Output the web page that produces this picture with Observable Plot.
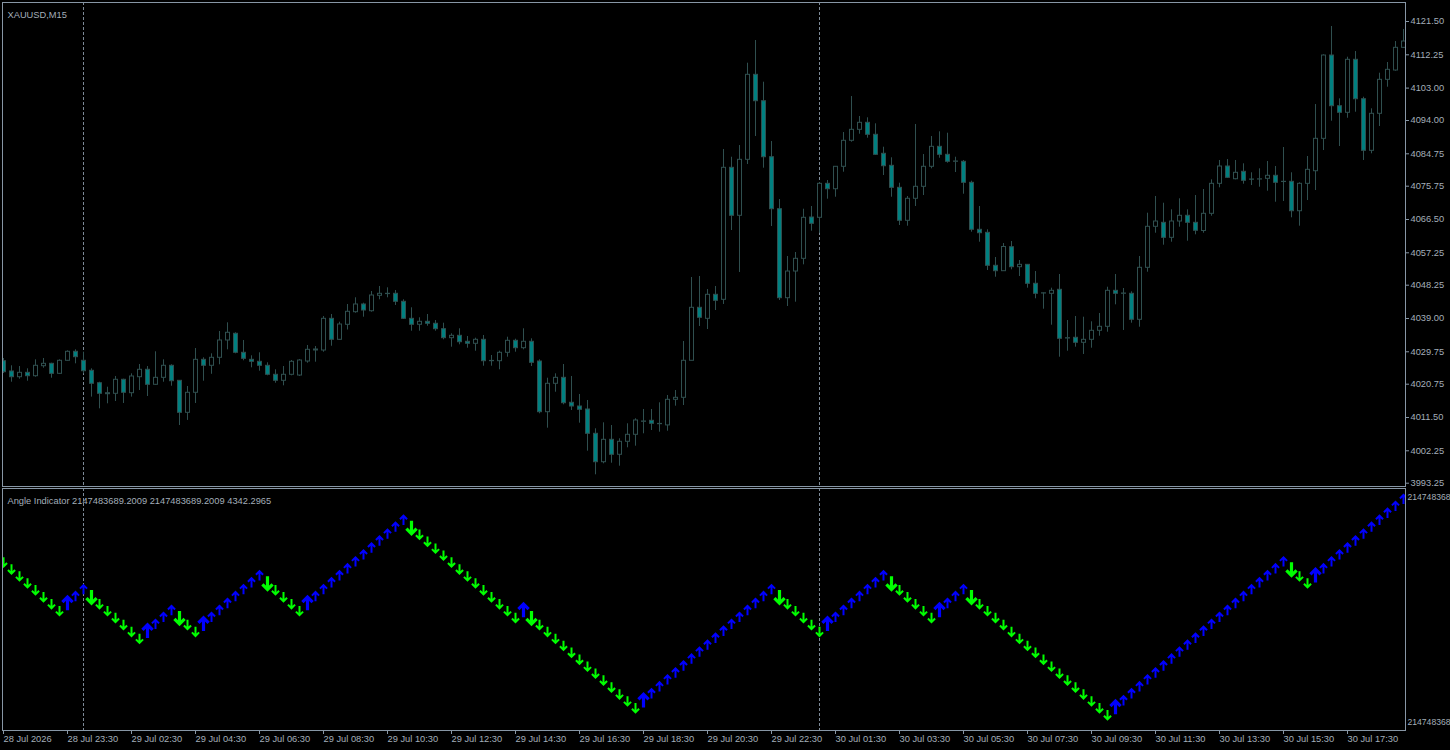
<!DOCTYPE html>
<html><head><meta charset="utf-8">
<script src="https://cdn.jsdelivr.net/npm/d3@7"></script>
<script src="https://cdn.jsdelivr.net/npm/@observablehq/plot@0.6"></script>
<style>
html,body{margin:0;padding:0;background:#000;width:1450px;height:750px;overflow:hidden;}
#wrap{position:relative;width:1450px;height:750px;background:#000;}
#main,#ind{position:absolute;left:0;}
#main{top:0;} #ind{top:487px;}
svg{display:block;}
</style></head><body><div id="wrap"><div id="main"></div><div id="ind"></div></div>
<script>
// ---- data (XAUUSD M15, bar index 0..175) ----
const open = [
4027.14,4024.28,4022.69,4023.91,4022.97,4025.75,4026.41,4023.63,4027.25,4029.75,
4027.25,4024.47,4021.02,4017.97,4018.08,4021.97,4018.25,4022.69,4024.75,4020.58,
4022.52,4025.86,4021.69,4012.80,4018.36,4027.52,4025.86,4028.08,4032.89,4034.75,
4029.47,4027.52,4026.97,4025.86,4023.36,4021.69,4023.36,4023.16,4027.05,4030.11,
4030.11,4038.91,4033.08,4037.25,4040.75,4042.89,4041.02,4045.30,4045.86,4045.86,
4043.64,4038.91,4037.25,4038.08,4037.53,4036.03,4033.53,4034.19,4032.53,4031.97,
4033.08,4027.14,4027.14,4029.47,4032.80,4030.75,4032.53,4027.05,4012.97,4020.86,
4022.52,4015.58,4014.55,4013.72,4006.97,3999.08,4005.30,4001.14,4004.75,4006.69,
4010.30,4010.58,4009.64,4009.30,4016.41,4016.97,4027.25,4041.97,4038.91,4045.58,
4044.19,4080.86,4067.53,4083.08,4106.69,4099.36,4083.80,4069.36,4044.64,4052.05,
4055.58,4067.05,4066.97,4076.41,4074.91,4081.14,4088.36,4091.41,4093.36,4090.03,
4084.75,4081.41,4075.30,4066.14,4072.25,4075.58,4081.14,4086.69,4084.47,4082.53,
4082.53,4076.69,4063.64,4062.80,4053.64,4052.14,4058.80,4053.25,4053.91,4048.64,
4045.94,4045.86,4046.97,4033.44,4033.64,4032.25,4033.08,4035.58,4036.69,4046.69,
4045.86,4045.86,4038.64,4053.08,4064.47,4065.58,4061.41,4065.94,4067.53,4065.58,
4063.30,4068.08,4076.41,4081.22,4077.69,4079.75,4077.61,4077.61,4077.80,4078.64,
4076.97,4076.97,4068.80,4076.41,4079.91,4088.91,4112.05,4097.97,4096.14,4110.86,
4099.91,4085.58,4095.86,4105.30,4107.89,4114.19];
const high = [
4027.89,4025.86,4025.66,4025.02,4027.52,4027.89,4026.58,4027.52,4030.03,4030.30,
4029.64,4025.02,4021.30,4019.91,4022.89,4022.14,4023.63,4026.22,4025.66,4029.75,
4027.52,4026.14,4021.78,4020.11,4030.66,4028.08,4029.19,4035.39,4037.80,4035.03,
4032.89,4028.63,4029.47,4026.69,4024.75,4025.66,4027.33,4027.60,4031.50,4031.22,
4039.55,4040.11,4037.97,4042.89,4044.75,4043.25,4046.50,4047.89,4047.52,4046.78,
4044.19,4041.97,4039.19,4040.11,4038.44,4037.69,4034.75,4036.14,4034.00,4033.53,
4034.28,4028.72,4029.91,4033.80,4033.25,4036.14,4033.36,4027.52,4022.41,4023.63,
4026.22,4022.89,4017.89,4016.22,4008.36,4010.02,4009.27,4005.58,4009.75,4011.14,
4013.72,4013.72,4015.58,4017.61,4019.00,4032.61,4050.39,4050.67,4047.05,4047.89,
4085.94,4083.80,4087.05,4109.92,4116.22,4104.64,4088.16,4072.05,4056.22,4057.33,
4069.36,4070.11,4076.77,4077.33,4081.22,4090.66,4100.66,4095.11,4094.75,4093.08,
4086.58,4083.64,4076.58,4072.89,4092.89,4084.55,4089.55,4090.86,4090.47,4083.80,
4082.89,4077.14,4070.11,4063.64,4055.94,4059.83,4060.39,4055.11,4054.00,4052.05,
4046.08,4047.42,4051.22,4038.44,4039.55,4039.36,4038.08,4040.39,4047.69,4051.22,
4047.33,4046.41,4056.22,4068.25,4072.89,4071.02,4069.19,4072.25,4069.19,4073.16,
4074.83,4077.52,4082.89,4083.16,4082.89,4081.97,4079.47,4080.58,4082.61,4081.22,
4086.50,4079.47,4076.69,4084.00,4098.44,4112.25,4120.11,4100.02,4111.58,4113.16,
4100.47,4097.25,4107.14,4110.11,4115.94,4119.28];
const low = [
4023.72,4021.30,4022.14,4021.58,4022.69,4025.19,4022.41,4023.44,4027.14,4026.41,
4023.63,4017.16,4013.91,4015.30,4015.94,4015.39,4017.16,4019.00,4017.33,4020.39,
4021.30,4020.19,4009.27,4010.69,4015.39,4021.58,4023.50,4026.14,4030.30,4029.19,
4027.25,4025.30,4024.36,4023.08,4021.02,4020.30,4023.08,4022.90,4026.58,4026.86,
4029.64,4031.30,4032.89,4035.80,4040.47,4039.36,4040.75,4044.19,4044.75,4042.61,
4038.72,4035.47,4035.47,4036.86,4035.47,4033.08,4031.03,4031.69,4030.75,4029.91,
4025.75,4025.75,4024.75,4028.25,4029.64,4030.30,4025.66,4012.53,4008.53,4018.52,
4015.03,4013.44,4009.92,4002.14,3995.58,3998.64,3998.80,3997.97,4003.08,4003.53,
4006.97,4007.89,4007.42,4007.69,4014.64,4014.83,4027.25,4036.78,4035.94,4041.22,
4042.89,4063.44,4051.78,4081.78,4089.55,4080.75,4064.55,4044.00,4042.33,4043.53,
4053.91,4063.25,4062.69,4072.14,4072.69,4079.64,4087.97,4090.19,4089.08,4084.28,
4078.72,4072.69,4064.83,4064.64,4070.11,4073.16,4080.58,4083.52,4082.14,4079.55,
4073.52,4062.97,4060.19,4052.33,4050.47,4052.05,4052.52,4050.66,4047.42,4044.47,
4041.58,4037.14,4028.25,4029.91,4031.03,4029.00,4030.75,4034.08,4035.19,4042.80,
4035.67,4037.69,4036.58,4051.86,4062.69,4059.36,4060.19,4064.36,4060.47,4062.25,
4062.69,4067.41,4075.30,4077.89,4077.52,4076.30,4075.94,4075.47,4074.36,4071.30,
4071.50,4066.97,4064.64,4071.77,4074.55,4085.66,4093.80,4086.77,4094.63,4096.30,
4082.89,4084.75,4092.33,4103.25,4107.69,4114.00];
const close = [
4024.08,4022.69,4023.91,4022.97,4025.86,4026.41,4023.63,4027.25,4029.75,4028.25,
4024.36,4020.86,4018.08,4018.25,4021.97,4018.36,4022.89,4024.75,4020.58,4022.52,
4025.86,4021.58,4012.80,4018.36,4027.52,4025.86,4028.08,4032.89,4035.03,4029.47,
4027.80,4026.97,4025.86,4023.36,4021.69,4023.36,4026.97,4027.33,4030.30,4030.39,
4038.91,4033.08,4037.33,4040.86,4042.89,4041.22,4045.39,4045.86,4045.78,4043.64,
4038.91,4037.25,4038.08,4037.53,4036.03,4033.53,4034.19,4032.41,4031.97,4033.08,
4027.14,4027.22,4029.47,4032.80,4030.75,4032.53,4026.69,4012.97,4020.86,4022.52,
4015.47,4014.55,4013.64,4006.97,3999.08,4005.30,4001.14,4004.75,4006.69,4010.67,
4010.39,4009.75,4009.72,4016.41,4016.97,4027.25,4041.97,4039.19,4045.58,4043.91,
4080.86,4067.53,4083.08,4106.69,4099.36,4083.80,4069.36,4044.64,4052.05,4055.58,
4066.97,4065.30,4076.41,4074.91,4081.14,4088.36,4091.41,4093.36,4090.03,4084.47,
4081.30,4075.30,4066.14,4072.25,4075.58,4081.14,4086.69,4084.47,4082.53,4082.61,
4076.69,4063.64,4062.69,4053.64,4052.14,4058.86,4053.25,4053.91,4048.64,4045.86,
4046.00,4046.69,4033.36,4033.53,4032.25,4033.08,4035.58,4036.69,4046.69,4045.86,
4045.94,4038.64,4053.08,4064.47,4065.94,4061.41,4065.94,4067.53,4065.58,4063.36,
4068.08,4076.41,4081.22,4078.08,4079.47,4077.25,4077.55,4077.66,4078.64,4076.69,
4076.91,4068.80,4076.41,4080.30,4088.91,4112.05,4097.97,4096.14,4110.86,4099.91,
4085.58,4095.86,4105.30,4108.08,4114.19,4115.94];

// Angle Indicator line (in indicator steps), one value per bar
const angle = [
0,-1,-2,-3,-4,-5,-6,-7,
-6,-5,-4,
-5,-6,-7,-8,-9,-10,-11,
-10,-9,-8,-7,
-8,-9,-10,
-9,-8,-7,-6,-5,-4,-3,-2,
-3,-4,-5,-6,-7,
-6,-5,-4,-3,-2,-1,0,1,2,3,4,5,6,
5,4,3,2,1,0,-1,-2,-3,-4,-5,-6,-7,-8,
-7,
-8,-9,-10,-11,-12,-13,-14,-15,-16,-17,-18,-19,-20,-21,
-20,-19,-18,-17,-16,-15,-14,-13,-12,-11,-10,-9,-8,-7,-6,-5,-4,
-5,-6,-7,-8,-9,-10,
-9,-8,-7,-6,-5,-4,-3,-2,
-3,-4,-5,-6,-7,-8,
-7,-6,-5,-4,
-5,-6,-7,-8,-9,-10,-11,-12,-13,-14,-15,-16,-17,-18,-19,-20,-21,-22,
-21,-20,-19,-18,-17,-16,-15,-14,-13,-12,-11,-10,-9,-8,-7,-6,-5,-4,-3,-2,-1,0,
-1,-2,-3,
-2,-1,0,1,2,3,4,5,6,7,8,9];

const priceTicks = [4121.50,4112.25,4103.00,4094.00,4084.75,4075.75,4066.50,4057.25,4048.25,4039.00,4029.75,4020.75,4011.50,4002.25,3993.25];
const timeTicks = [0,8,16,24,32,40,48,56,64,72,80,88,96,104,112,120,128,136,144,152,160,168];
const timeLabels = ["28 Jul 2026","28 Jul 23:30","29 Jul 02:30","29 Jul 04:30","29 Jul 06:30","29 Jul 08:30","29 Jul 10:30","29 Jul 12:30","29 Jul 14:30","29 Jul 16:30","29 Jul 18:30","29 Jul 20:30","29 Jul 22:30","30 Jul 01:30","30 Jul 03:30","30 Jul 05:30","30 Jul 07:30","30 Jul 09:30","30 Jul 11:30","30 Jul 13:30","30 Jul 15:30","30 Jul 17:30"];
const daySeparators = [10, 102];
const indAxisTicks = [9.28, -23.12];
const indAxisLabels = ["214748368", "214748368"];
const symbolTitle = "XAUUSD,M15";
const indicatorTitle = "Angle Indicator 2147483689.2009 2147483689.2009 4342.2965";

// ---- styles ----
const FONT = "'Liberation Sans', Arial, sans-serif";
const FS = "9.3px";
const LINE = "#8796a5", TXT = "#a3aeb9", SEP = "#7d8a97";
const WICK = "#2f4f4f", TEAL = "#008080";
const UP = "#0000ff", DOWN = "#00ff00";

const bars = open.map((o, i) => ({i, open: o, high: high[i], low: low[i], close: close[i]}));
const isBear = d => d.close < d.open;

const xDomain = [-0.125, 175.25];

const main = Plot.plot({
  width: 1450, height: 487,
  marginLeft: 2, marginRight: 45, marginTop: 2, marginBottom: 1,
  style: {background: "#000", color: TXT, fontFamily: FONT, fontSize: FS},
  x: {domain: xDomain, axis: null},
  y: {domain: [3992.33, 4126.78]},
  marks: [
    Plot.ruleX(daySeparators, {stroke: SEP, strokeDasharray: "3,2"}),
    Plot.ruleX(bars, {x: "i", y1: "low", y2: "high", stroke: WICK, clip: true}),
    Plot.rect(bars, {filter: d => !isBear(d), x1: d => d.i - 0.25, x2: d => d.i + 0.25, insetLeft: 0.5, insetRight: -0.5, y1: "open", y2: "close", fill: "#000", stroke: WICK, clip: true}),
    Plot.rect(bars, {filter: isBear, x1: d => d.i - 0.25, x2: d => d.i + 0.25, insetLeft: 0.5, insetRight: -0.5, y1: "open", y2: "close", fill: TEAL, stroke: WICK, clip: true}),
    Plot.frame({stroke: LINE}),
    Plot.axisY(priceTicks, {anchor: "right", tickFormat: d => d.toFixed(2), tickSize: 3, tickPadding: 2, stroke: LINE, fill: TXT, label: null}),
    Plot.text([symbolTitle], {text: d => d, frameAnchor: "top-left", dx: 5, dy: 9, textAnchor: "start", fill: TXT})
  ]
});
document.getElementById("main").appendChild(main);

// ---- indicator arrows ----
const arrowDown = {draw(ctx, size) {
  const r = Math.sqrt(size / Math.PI), h = r * 1.1, w = r * 0.85;
  ctx.moveTo(0, -h); ctx.lineTo(0, h);
  ctx.moveTo(-w, h - w); ctx.lineTo(0, h); ctx.lineTo(w, h - w);
}};
const arrowUp = {draw(ctx, size) {
  const r = Math.sqrt(size / Math.PI), h = r * 1.1, w = r * 0.85;
  ctx.moveTo(0, h); ctx.lineTo(0, -h);
  ctx.moveTo(-w, -h + w); ctx.lineTo(0, -h); ctx.lineTo(w, -h + w);
}};
const pts = angle.map((v, i) => {
  const up = i === 0 ? angle[1] > angle[0] : v > angle[i - 1];
  const prevUp = i <= 1 ? (angle[1] > angle[0]) : angle[i - 1] > angle[i - 2];
  return {i, v, up, big: i > 0 && up !== prevUp};
});

const ind = Plot.plot({
  width: 1450, height: 263,
  marginLeft: 2, marginRight: 45, marginTop: 1, marginBottom: 20,
  style: {background: "#000", color: TXT, fontFamily: FONT, fontSize: FS},
  x: {domain: xDomain},
  y: {domain: [-24.28, 10.58]},
  marks: [
    Plot.ruleX(daySeparators, {stroke: SEP, strokeDasharray: "3,2"}),
    Plot.dot(pts, {filter: d => !d.up && !d.big, x: "i", y: "v", symbol: arrowDown, r: 4.2, fill: "none", stroke: DOWN, strokeWidth: 2, clip: true}),
    Plot.dot(pts, {filter: d => !d.up && d.big, x: "i", y: "v", symbol: arrowDown, r: 6, fill: "none", stroke: DOWN, strokeWidth: 3.2, clip: true}),
    Plot.dot(pts, {filter: d => d.up && !d.big, x: "i", y: "v", symbol: arrowUp, r: 4.2, fill: "none", stroke: UP, strokeWidth: 2, clip: true}),
    Plot.dot(pts, {filter: d => d.up && d.big, x: "i", y: "v", symbol: arrowUp, r: 6, fill: "none", stroke: UP, strokeWidth: 3.2, clip: true}),
    Plot.frame({stroke: LINE}),
    Plot.axisY(indAxisTicks, {anchor: "right", tickFormat: d => indAxisLabels[indAxisTicks.indexOf(d)], tickSize: 0, tickPadding: 2, stroke: LINE, fill: TXT, fontSize: "8.6px", label: null}),
    Plot.axisX(timeTicks, {anchor: "bottom", tickFormat: d => timeLabels[timeTicks.indexOf(d)], tickSize: 4, tickPadding: 1, textAnchor: "start", stroke: LINE, fill: TXT, label: null}),
    Plot.text([indicatorTitle], {text: d => d, frameAnchor: "top-left", dx: 5, dy: 9, textAnchor: "start", fill: TXT})
  ]
});
document.getElementById("ind").appendChild(ind);
</script></body></html>
